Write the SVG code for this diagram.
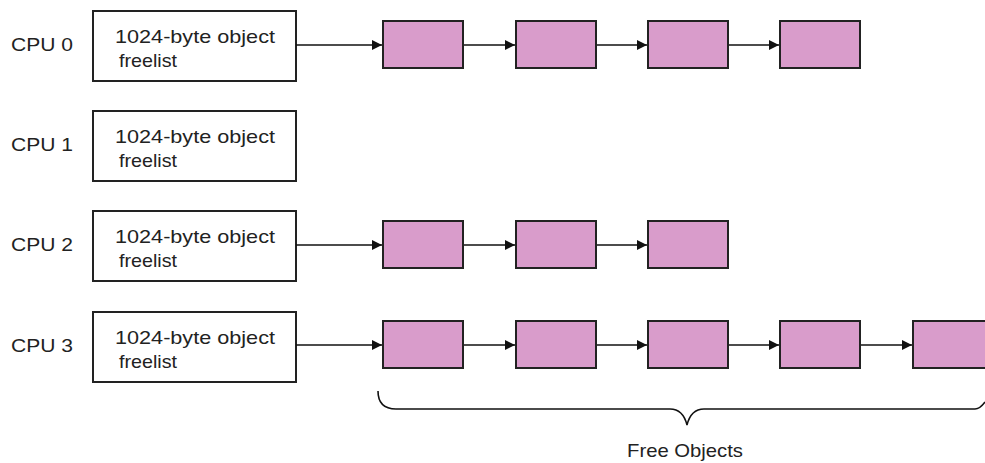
<svg xmlns="http://www.w3.org/2000/svg" width="985" height="463" viewBox="0 0 985 463">
<defs>
<marker id="ah" viewBox="0 0 10 10" refX="10" refY="5" markerWidth="10" markerHeight="10" markerUnits="userSpaceOnUse" orient="auto">
<path d="M0,0 L10,5 L0,10 z" fill="#111"/>
</marker>
<style>
text{font-family:"Liberation Sans","DejaVu Sans",sans-serif;fill:#222}
.lab{font-size:19px}
.fl{fill:#fff;stroke:#222;stroke-width:2}
.obj{fill:#d99ccb;stroke:#222;stroke-width:2}
.c{stroke:#111;stroke-width:1.6;fill:none}
</style>
</defs>
<rect width="985" height="463" fill="#fff"/>

<g id="cpu0">
<text class="lab" x="11" y="51" textLength="62" lengthAdjust="spacingAndGlyphs">CPU 0</text>
<rect class="fl" x="93" y="11" width="203" height="70"/>
<text class="lab" x="115" y="43" textLength="160" lengthAdjust="spacingAndGlyphs">1024-byte object</text>
<text class="lab" x="119" y="67" textLength="58" lengthAdjust="spacingAndGlyphs">freelist</text>
</g>
<g id="cpu1">
<text class="lab" x="11" y="151" textLength="62" lengthAdjust="spacingAndGlyphs">CPU 1</text>
<rect class="fl" x="93" y="111" width="203" height="70"/>
<text class="lab" x="115" y="143" textLength="160" lengthAdjust="spacingAndGlyphs">1024-byte object</text>
<text class="lab" x="119" y="167" textLength="58" lengthAdjust="spacingAndGlyphs">freelist</text>
</g>
<g id="cpu2">
<text class="lab" x="11" y="251" textLength="62" lengthAdjust="spacingAndGlyphs">CPU 2</text>
<rect class="fl" x="93" y="211" width="203" height="70"/>
<text class="lab" x="115" y="243" textLength="160" lengthAdjust="spacingAndGlyphs">1024-byte object</text>
<text class="lab" x="119" y="267" textLength="58" lengthAdjust="spacingAndGlyphs">freelist</text>
</g>
<g id="cpu3">
<text class="lab" x="11" y="352" textLength="62" lengthAdjust="spacingAndGlyphs">CPU 3</text>
<rect class="fl" x="93" y="312" width="203" height="70"/>
<text class="lab" x="115" y="344" textLength="160" lengthAdjust="spacingAndGlyphs">1024-byte object</text>
<text class="lab" x="119" y="368" textLength="58" lengthAdjust="spacingAndGlyphs">freelist</text>
</g>

<g id="row0-objects">
<rect class="obj" x="383" y="21" width="80" height="47"/>
<rect class="obj" x="516" y="21" width="80" height="47"/>
<rect class="obj" x="648" y="21" width="80" height="47"/>
<rect class="obj" x="780" y="21" width="80" height="47"/>
</g>
<g id="row2-objects">
<rect class="obj" x="383" y="221" width="80" height="47"/>
<rect class="obj" x="516" y="221" width="80" height="47"/>
<rect class="obj" x="648" y="221" width="80" height="47"/>
</g>
<g id="row3-objects">
<rect class="obj" x="383" y="321" width="80" height="47"/>
<rect class="obj" x="516" y="321" width="80" height="47"/>
<rect class="obj" x="648" y="321" width="80" height="47"/>
<rect class="obj" x="780" y="321" width="80" height="47"/>
<rect class="obj" x="913" y="321" width="80" height="47"/>
</g>

<g id="connectors">
<line class="c" x1="296" y1="45" x2="382" y2="45" marker-end="url(#ah)"/>
<line class="c" x1="464" y1="45" x2="515" y2="45" marker-end="url(#ah)"/>
<line class="c" x1="597" y1="45" x2="647" y2="45" marker-end="url(#ah)"/>
<line class="c" x1="729" y1="45" x2="779" y2="45" marker-end="url(#ah)"/>

<line class="c" x1="296" y1="245" x2="382" y2="245" marker-end="url(#ah)"/>
<line class="c" x1="464" y1="245" x2="515" y2="245" marker-end="url(#ah)"/>
<line class="c" x1="597" y1="245" x2="647" y2="245" marker-end="url(#ah)"/>

<line class="c" x1="296" y1="345" x2="382" y2="345" marker-end="url(#ah)"/>
<line class="c" x1="464" y1="345" x2="515" y2="345" marker-end="url(#ah)"/>
<line class="c" x1="597" y1="345" x2="647" y2="345" marker-end="url(#ah)"/>
<line class="c" x1="729" y1="345" x2="779" y2="345" marker-end="url(#ah)"/>
<line class="c" x1="861" y1="345" x2="912" y2="345" marker-end="url(#ah)"/>
</g>

<g id="brace">
<path class="c" stroke="#333" d="M378,391 Q378,409 396,409 L670,409 Q683,409 687,425 Q691,409 704,409 L975,409 Q980,409 985,402"/>
<text x="685" y="457" text-anchor="middle" font-size="19" textLength="116" lengthAdjust="spacingAndGlyphs">Free Objects</text>
</g>
</svg>
